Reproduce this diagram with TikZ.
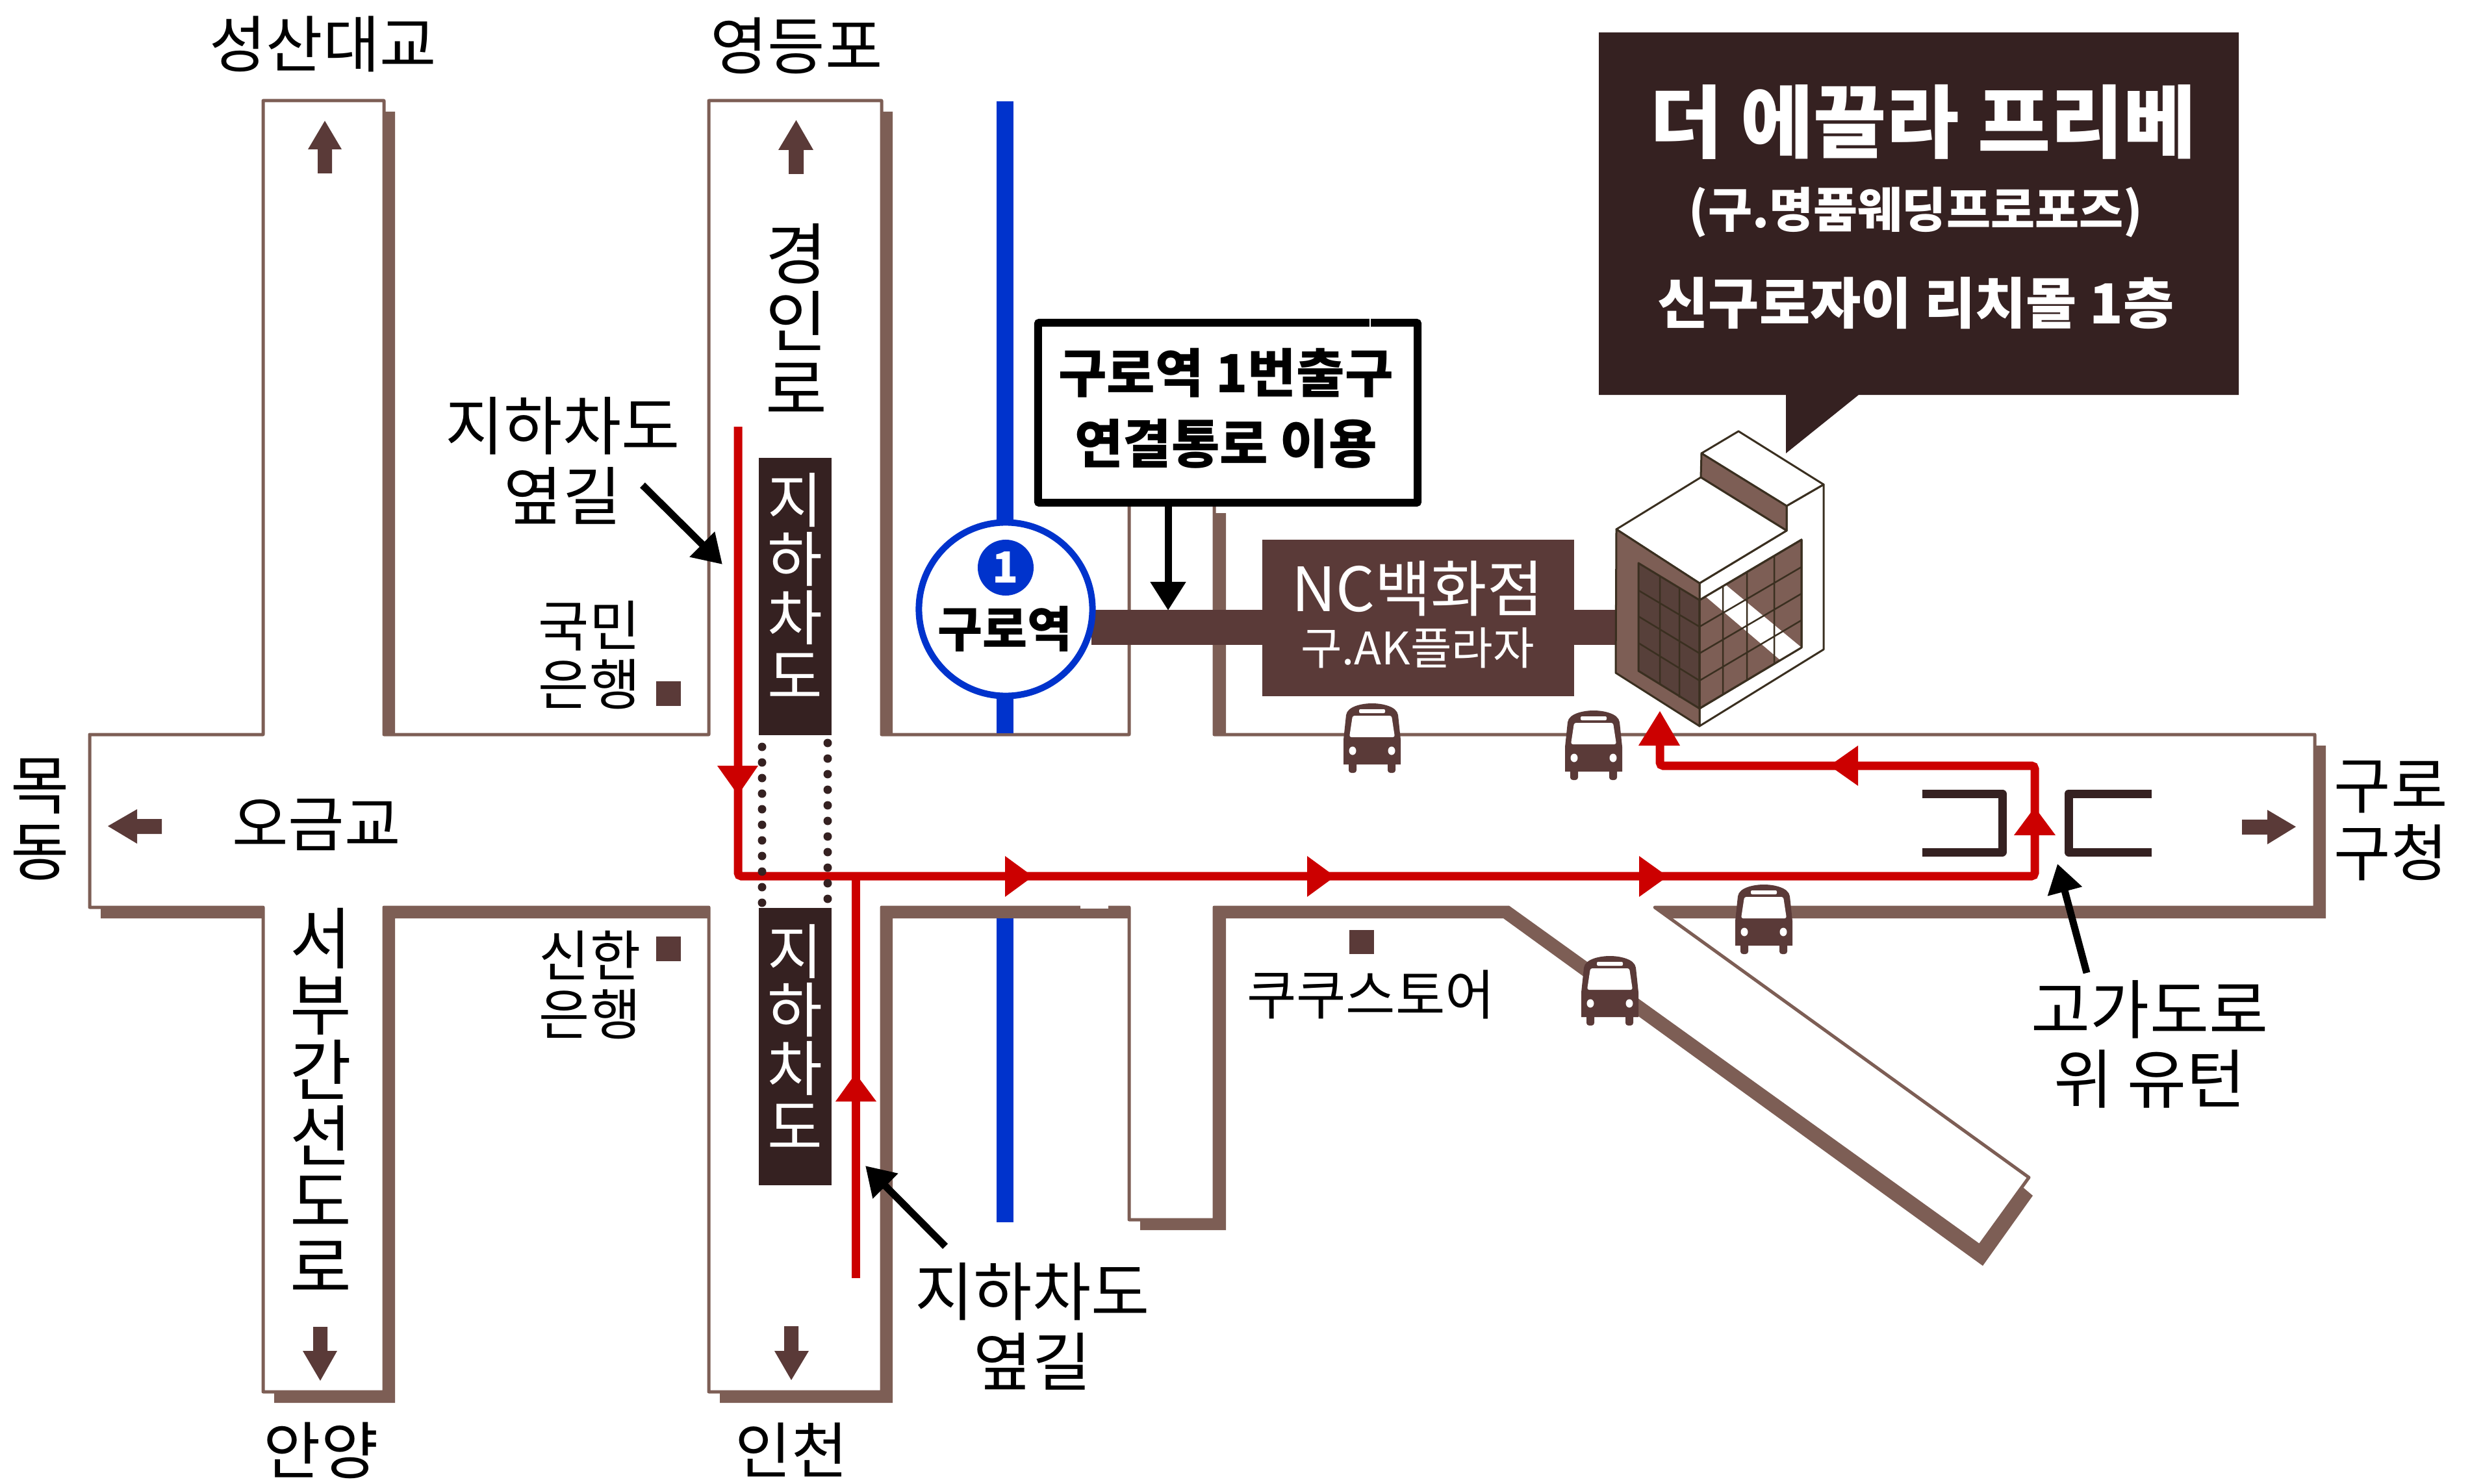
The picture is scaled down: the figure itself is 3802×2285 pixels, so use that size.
\documentclass[tikz,border=0pt]{standalone}
\usepackage{fontspec}
\setmainfont{Noto Sans CJK KR}
\usetikzlibrary{arrows.meta}
\def\px{0.28453pt}
\newcommand\pxfont[2]{\fontsize{\fpeval{#1*0.28453}pt}{\fpeval{#2*0.28453}pt}\selectfont}
\definecolor{roadc}{HTML}{7D5E55}
\definecolor{brownc}{HTML}{5A3A38}
\definecolor{darkc}{HTML}{352121}
\definecolor{redc}{HTML}{CC0000}
\definecolor{bluec}{HTML}{0033CC}
\definecolor{linec}{HTML}{3A2F20}
\definecolor{winc}{HTML}{57403A}
\tikzset{
  lab/.style 2 args={inner sep=0pt,align=center,font=\pxfont{#1}{#2}},
  blab/.style 2 args={inner sep=0pt,align=center,font=\bfseries\pxfont{#1}{#2}},
  redline/.style={draw=redc,line width=13*\px,rounded corners=5*\px},
  callout/.style={draw=black,line width=11*\px,-{Triangle[length=44*\px,width=52*\px]}},
  bld/.style={draw=linec,line width=3*\px,line join=round},
  grid/.style={draw=linec,line width=2.5*\px},
}
\newcommand\busicon[2]{%
  \begin{scope}[shift={(#1,#2)}]
    \fill[brownc] (-44,94) -- (-44,56) -- (-40,18) .. controls (-38,4) and (-14,0) .. (0,0)
      .. controls (14,0) and (38,4) .. (40,18) -- (44,56) -- (44,94) -- cycle;
    \fill[brownc,rounded corners=4*\px] (-36,88) rectangle (-24,107);
    \fill[brownc,rounded corners=4*\px] (24,88) rectangle (36,107);
    \fill[white,rounded corners=3*\px] (-30,19) -- (30,19) -- (35,52) -- (-35,52) -- cycle;
    \fill[white,rounded corners=2*\px] (-20,9) rectangle (20,15);
    \fill[white] (-30,73) ellipse [x radius=5.5,y radius=6.5];
    \fill[white] (30,73) ellipse [x radius=5.5,y radius=6.5];
  \end{scope}}
\begin{document}
\begin{tikzpicture}[x=0.01cm,y=-0.01cm]
\useasboundingbox (0,0) rectangle (3802,2285);
% ---- road shadow
\fill[roadc] (422,172) -- (608,172) -- (608,1148) -- (1108,1148) -- (1108,172) -- (1374,172)
  -- (1374,1148) -- (1755,1148) -- (1755,790) -- (1887,790) -- (1887,1148) -- (3580,1148) -- (3580,1414)
  -- (2574,1414) -- (3116,1830) -- (3129,1841) -- (3052,1949) -- (2314,1414)
  -- (1887,1414) -- (1887,1894) -- (1755,1894) -- (1755,1414) -- (1374,1414) -- (1374,2160)
  -- (1108,2160) -- (1108,1414) -- (608,1414) -- (608,2160) -- (422,2160) -- (422,1414)
  -- (155,1414) -- (155,1148) -- (422,1148) -- cycle;
% ---- road surface
\filldraw[fill=white,draw=roadc,line width=5*\px,line join=round]
  (405,155) -- (591,155) -- (591,1131) -- (1091,1131) -- (1091,155) -- (1357,155)
  -- (1357,1131) -- (1738,1131) -- (1738,770) -- (1869,770) -- (1869,1131) -- (3563,1131) -- (3563,1397)
  -- (2547,1397) -- (3123,1813) -- (3047,1918) -- (2322,1397)
  -- (1869,1397) -- (1869,1878) -- (1738,1878) -- (1738,1397) -- (1357,1397) -- (1357,2143)
  -- (1091,2143) -- (1091,1397) -- (591,1397) -- (591,2143) -- (405,2143) -- (405,1397)
  -- (138,1397) -- (138,1131) -- (405,1131) -- cycle;
\fill[white] (1663,1394) rectangle (1706,1399);
% ---- subway line
\fill[bluec] (1534,156) rectangle (1560,1129);
\fill[bluec] (1534,1414) rectangle (1560,1882);
% ---- connecting bar and department store
\fill[brownc] (1680,939) rectangle (2490,993);
\node[fill=brownc,minimum width=480*\px,minimum height=241*\px,inner sep=0pt] (store) at (2183,951.5) {};
\node[lab={94}{100},text=white] (storea) at (2182,906) {NC백화점};
\node[lab={69}{80},text=white] (storeb) at (2182,998) {구.AK플라자};
% ---- station
\node[circle,draw=bluec,fill=white,line width=10*\px,minimum size=267*\px,inner sep=0pt] (station) at (1548,938) {};
\node[circle,fill=bluec,minimum size=86*\px,inner sep=0pt,text=white,font=\bfseries\pxfont{66}{70}] (one) at (1548,874) {1};
\node[blab={75}{80}] (stname) at (1547,968) {구로역};
% ---- exit label box
\node[draw=black,fill=white,line width=12*\px,rounded corners=2*\px,minimum width=584*\px,minimum height=277*\px,inner sep=0pt] (exitbox) at (1890,635.5) {};
\draw[white,line width=1.5*\px] (2109,490) -- (2109,503);
\node[blab={81}{109}] (exittext) at (1887,629) {구로역 1번출구\\연결통로 이용};
\coordinate (exittip) at (1798,940);
\draw[callout] (1798,780) -- (exittip);
% ---- underpass boxes
\fill[darkc] (1168,705) rectangle (1280,1132);
\fill[darkc] (1168,1398) rectangle (1280,1825);
\node[lab={92}{90},text=white] (upa) at (1224,902) {지\\하\\차\\도};
\node[lab={92}{90},text=white] (upb) at (1224,1596) {지\\하\\차\\도};
% ---- brackets of the overpass
\draw[darkc,line width=13*\px,line join=round] (2959,1222) -- (3082,1222) -- (3082,1312) -- (2959,1312);
\draw[darkc,line width=13*\px,line join=round] (3312,1222) -- (3184,1222) -- (3184,1312) -- (3312,1312);
% ---- red route
\draw[redline] (1136,657) -- (1136,1349) -- (3132,1349) -- (3132,1179) -- (2555,1179) -- (2555,1140);
\draw[redc,line width=13*\px] (1317,1968) -- (1317,1349);
\fill[redc] (1104,1179) -- (1167,1179) -- (1136,1224) -- cycle;
\fill[redc] (1547,1318) -- (1590,1349.5) -- (1547,1381) -- cycle;
\fill[redc] (2012,1318) -- (2055,1349.5) -- (2012,1381) -- cycle;
\fill[redc] (2523,1318) -- (2567,1349.5) -- (2523,1381) -- cycle;
\fill[redc] (2860,1148) -- (2816,1179) -- (2860,1210) -- cycle;
\fill[redc] (3100,1286) -- (3132,1243) -- (3164,1286) -- cycle;
\fill[redc] (2522,1148) -- (2555,1095) -- (2586,1148) -- cycle;
\fill[redc] (1286,1696) -- (1317,1653) -- (1349,1696) -- cycle;
% ---- dotted underpass sides
\foreach \k in {0,...,10}{
  \fill[darkc] (1173,1150+24*\k) circle [radius=6.5];
  \fill[darkc] (1274,1144+24*\k) circle [radius=6.5];
}
% ---- direction arrows
\fill[brownc] (500,186) -- (526,230) -- (511,230) -- (511,267) -- (489,267) -- (489,230) -- (474,230) -- cycle;
\fill[brownc] (1225.5,185) -- (1252,231) -- (1237,231) -- (1237,268) -- (1214,268) -- (1214,231) -- (1198,231) -- cycle;
\fill[brownc] (166,1272) -- (211,1246) -- (211,1261) -- (249,1261) -- (249,1284) -- (211,1284) -- (211,1299) -- cycle;
\fill[brownc] (493,2126) -- (466,2080) -- (482,2080) -- (482,2043) -- (504,2043) -- (504,2080) -- (519,2080) -- cycle;
\fill[brownc] (1218,2125) -- (1192,2080) -- (1207,2080) -- (1207,2042) -- (1229,2042) -- (1229,2080) -- (1245,2080) -- cycle;
\fill[brownc] (3534,1273) -- (3490,1247) -- (3490,1262) -- (3451,1262) -- (3451,1285) -- (3490,1285) -- (3490,1300) -- cycle;
% ---- landmark squares
\fill[brownc] (1010,1049) rectangle (1048,1087);
\fill[brownc] (1010,1442) rectangle (1048,1480);
\fill[brownc] (2077,1432) rectangle (2115,1469);
% ---- buses
\busicon{2112}{1083}
\busicon{2453}{1094}
\busicon{2715}{1362}
\busicon{2478}{1472}
% ---- building
\filldraw[bld,fill=white] (2807,746) -- (2807,1000) -- (2616,1118) -- (2616,898) -- (2750,817) -- (2750,779) -- cycle;
\filldraw[bld,fill=white] (2676,664) -- (2619,698) -- (2750,779) -- (2807,746) -- cycle;
\filldraw[bld,fill=roadc] (2619,698) -- (2618,735) -- (2750,817) -- (2750,779) -- cycle;
\filldraw[bld,fill=white] (2488,815) -- (2618,735) -- (2750,817) -- (2616,898) -- cycle;
\filldraw[bld,fill=roadc] (2488,815) -- (2616,898) -- (2616,1118) -- (2487,1036) -- cycle;
\filldraw[bld,fill=winc] (2522,867) -- (2616,924) -- (2616,1091) -- (2522,1033) -- cycle;
\draw[grid] (2555,887) -- (2555,1053) (2585,906) -- (2585,1074)
  (2522,909) -- (2616,965) (2522,949) -- (2616,1006) (2522,990) -- (2616,1048);
\filldraw[bld,fill=roadc] (2616,924) -- (2773,831) -- (2773,997) -- (2616,1091) -- cycle;
\fill[white] (2626,919) -- (2657,901) -- (2773,997) -- (2741,1017) -- cycle;
\draw[grid] (2652,902) -- (2652,1068) (2689,881) -- (2689,1047) (2731,857) -- (2731,1022)
  (2616,965) -- (2773,873) (2616,1006) -- (2773,914) (2616,1048) -- (2773,955);
\draw[bld] (2616,924) -- (2773,831) -- (2773,997) -- (2616,1091) -- cycle;
% ---- speech bubble
\fill[darkc] (2461,50) -- (3446,50) -- (3446,608) -- (2861,608) -- (2749,698) -- (2749,608) -- (2461,608) -- cycle;
\node[blab={122}{130},text=white] (titlea) at (2960,188) {더 에끌라 프리베};
\node[blab={74}{80},text=white] (titleb) at (2949,327) {(구.명품웨딩프로포즈)};
\node[blab={85}{90},text=white] (titlec) at (2949,467) {신구로자이 리치몰 1층};
% ---- labels
\node[lab={95}{100}] (seongsan) at (497,68) {성산대교};
\node[lab={96}{100}] (yeongdeungpo) at (1226,70) {영등포};
\node[lab={103}{104}] (gyeongin) at (1226,491) {경\\인\\로};
\node[lab={98}{108}] (sidea) at (866,709) {지하차도\\옆길};
\coordinate (sideatail) at (989,747);
\coordinate (sideatip) at (1112,869);
\draw[callout] (sideatail) -- (sideatip);
\node[lab={85}{90}] (kb) at (907,1009) {국민\\은행};
\node[lab={85}{90}] (shinhan) at (908,1517) {신한\\은행};
\node[lab={98}{102}] (mokdong) at (62,1262) {목\\동};
\node[lab={94}{100}] (ogeum) at (487,1270) {오금교};
\node[lab={103}{101}] (seobu) at (494,1694) {서\\부\\간\\선\\도\\로};
\node[lab={96}{100}] (anyang) at (494,2233) {안양};
\node[lab={94}{100}] (incheon) at (1218,2232) {인천};
\node[lab={98}{108}] (sideb) at (1589,2042) {지하차도\\옆길};
\coordinate (sidebtail) at (1455,1919);
\coordinate (sidebtip) at (1332,1795);
\draw[callout] (sidebtail) -- (sidebtip);
\node[lab={83}{90}] (cuckoo) at (2110,1531) {쿠쿠스토어};
\node[lab={99}{107}] (uturn) at (3309,1608) {고가도로\\위 유턴};
\coordinate (uturntail) at (3212,1498);
\coordinate (uturntip) at (3167,1330);
\draw[callout] (uturntail) -- (uturntip);
\node[lab={95}{104}] (gurogu) at (3680,1264) {구로\\구청};
\end{tikzpicture}
\end{document}
